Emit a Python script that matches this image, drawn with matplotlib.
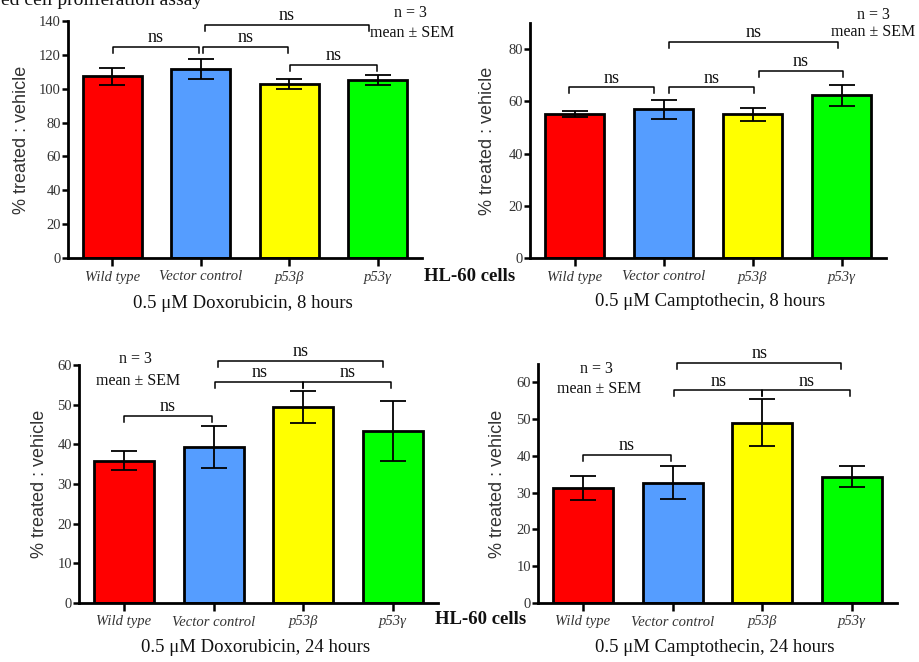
import numpy as np
import matplotlib
matplotlib.use("Agg")
import matplotlib.pyplot as plt

# figure is laid out in pixels of the 919x662 picture
W, H = 919, 662

groups = ["Wild type", "Vector control", "p53\u03b2", "p53\u03b3"]
colors = ["#FF0000", "#559DFF", "#FFFF00", "#00FF00"]

# mean and SEM per panel
dox8_mean = [107.3, 111.6, 103.0, 105.0]
dox8_sem = [5.2, 5.8, 3.0, 3.0]
cpt8_mean = [55.2, 57.0, 55.0, 62.3]
cpt8_sem = [1.1, 3.7, 2.4, 4.1]
dox24_mean = [35.9, 39.4, 49.5, 43.3]
dox24_sem = [2.4, 5.3, 4.0, 7.5]
cpt24_mean = [31.2, 32.7, 49.0, 34.4]
cpt24_sem = [3.3, 4.5, 6.4, 2.8]

# significance brackets: (x start, x end, height) in bar units / data units
dox8_br = [(0.01, 0.98, 124.7), (1.02, 1.99, 124.7), (1.05, 2.90, 137.8), (2.01, 2.99, 114.0)]
cpt8_br = [(-0.06, 0.89, 65.3), (1.06, 2.02, 65.3), (1.06, 2.96, 82.6), (2.07, 3.02, 71.7)]
dox24_br = [(0.0, 0.98, 47.2), (1.05, 2.89, 61.1), (1.02, 2.0, 55.8), (2.0, 2.98, 55.8)]
cpt24_br = [(0.0, 0.98, 40.2), (1.05, 2.88, 65.4), (1.02, 2.0, 57.8), (2.0, 2.98, 57.8)]

titles = ["0.5 \u03bcM Doxorubicin, 8 hours", "0.5 \u03bcM Camptothecin, 8 hours",
          "0.5 \u03bcM Doxorubicin, 24 hours", "0.5 \u03bcM Camptothecin, 24 hours"]

SERIF = ["Liberation Serif", "DejaVu Serif"]
GREY = "#333333"

fig = plt.figure(figsize=(W / 100, H / 100), dpi=100)


def fx(x):
    return x / W


def fy(y):
    return 1 - y / H


def panel(box, means, sems, ymax, ystep, brackets, ylab_off):
    l, r, b, t = box
    ax = fig.add_axes([fx(l), fy(b), fx(r - l), (b - t) / H])
    x = np.arange(len(means))
    ax.bar(x, means, width=0.67, color=colors, edgecolor="black", linewidth=2, zorder=2)
    ax.errorbar(x, means, yerr=sems, fmt="none", ecolor="black", elinewidth=1.3,
                capsize=9.5, capthick=1.3, zorder=3)
    ax.set_xlim(-0.5, len(means) - 0.5)
    ax.set_ylim(0, ymax)
    ax.set_yticks(np.arange(0, ymax + 0.1, ystep))
    ax.set_xticks(x)
    ax.set_xticklabels(groups, fontstyle="italic", family=SERIF, fontsize=10.5, color=GREY)
    for lab in ax.get_yticklabels():
        lab.set_family(SERIF)
        lab.set_fontsize(10.5)
        lab.set_color(GREY)
    for s in ["top", "right"]:
        ax.spines[s].set_visible(False)
    for s in ["left", "bottom"]:
        ax.spines[s].set_linewidth(2)
    ax.tick_params(axis="y", length=4, width=1.8, pad=1)
    ax.tick_params(axis="x", length=6, width=1.8, pad=3)
    ax.text(ylab_off / (r - l), 0.5, "% treated : vehicle", transform=ax.transAxes,
            rotation=90, ha="center", va="center", fontsize=13, color=GREY,
            family=["Liberation Sans", "DejaVu Sans"])
    leg = 6 * ymax / (b - t)
    for x1, x2, yb in brackets:
        ax.plot([x1, x1, x2, x2], [yb - leg, yb, yb, yb - leg], color="black",
                lw=1.1, clip_on=False, zorder=4)
        ax.text((x1 + x2) / 2, yb + leg * 0.15, "ns", ha="center", va="bottom",
                family=SERIF, fontsize=13, color="#111111", clip_on=False)
    return ax


panel((68, 422, 258, 21), dox8_mean, dox8_sem, 140, 20, dox8_br, -46)
panel((530, 886, 258, 23), cpt8_mean, cpt8_sem, 90, 20, cpt8_br, -43)
panel((79, 438, 603, 365), dox24_mean, dox24_sem, 60, 10, dox24_br, -39)
panel((538, 897, 603, 364), cpt24_mean, cpt24_sem, 65, 10, cpt24_br, -41)

# panel titles
for (cx, cy), t in zip([(243, 303), (710, 302), (256, 648), (715, 647)], titles):
    fig.text(fx(cx), fy(cy), t, ha="center", va="center", family=SERIF, fontsize=13.5,
             color="#111111")

# n / SEM notes
for (cx, cy), t in zip([(410, 13), (412, 33), (873, 15), (873, 32),
                        (135, 359), (138, 381), (596, 369), (599, 389)],
                       ["n = 3", "mean \u00b1 SEM"] * 4):
    fig.text(fx(cx), fy(cy), t, ha="center", va="center", family=SERIF, fontsize=11.5,
             color="#111111")

for cx, cy in [(470, 276), (481, 620)]:
    fig.text(fx(cx), fy(cy), "HL-60 cells", ha="center", va="center", family=SERIF,
             fontsize=13.5, fontweight="bold", color="#111111")

# caption cut off by the top edge, as in the source image
fig.text(fx(1), fy(5), "ed cell proliferation assay", ha="left", va="baseline",
         family=SERIF, fontsize=14, color="#111111")

fig.savefig("out.png", dpi=100)
